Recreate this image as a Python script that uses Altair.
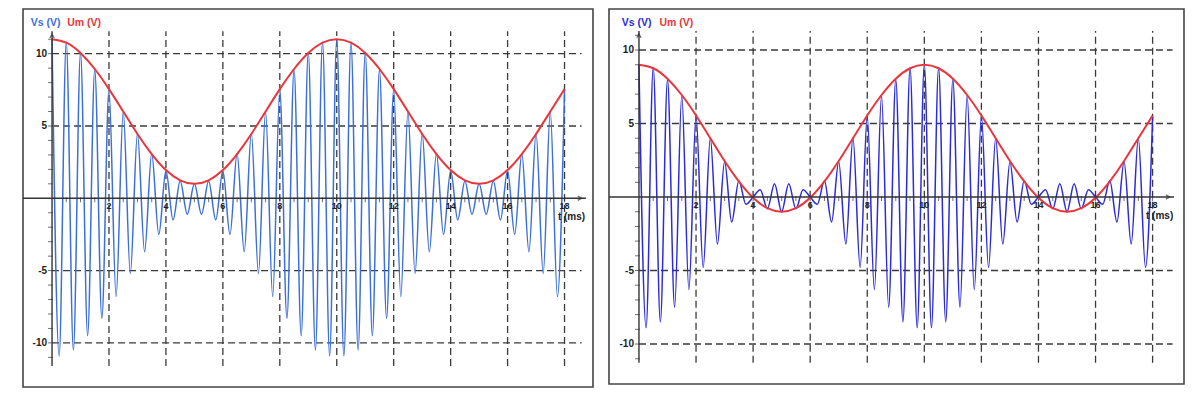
import altair as alt
import pandas as pd

# ---------------- data ----------------
# time of each carrier extremum (ms)
T_VS = [0, 0.25, 0.5, 0.75, 1, 1.25, 1.5, 1.75, 2, 2.25, 2.5, 2.75, 3, 3.25, 3.5, 3.75,
        4, 4.25, 4.5, 4.75, 5, 5.25, 5.5, 5.75, 6, 6.25, 6.5, 6.75, 7, 7.25, 7.5, 7.75,
        8, 8.25, 8.5, 8.75, 9, 9.25, 9.5, 9.75, 10, 10.25, 10.5, 10.75, 11, 11.25, 11.5, 11.75,
        12, 12.25, 12.5, 12.75, 13, 13.25, 13.5, 13.75, 14, 14.25, 14.5, 14.75, 15, 15.25, 15.5, 15.75,
        16, 16.25, 16.5, 16.75, 17, 17.25, 17.5, 17.75, 18]

# left panel: Vs extrema (V)
VS_LEFT = [11.0, -10.9, 10.8, -10.5, 10.1, -9.5, 8.9, -8.3, 7.5, -6.8, 6.0, -5.2, 4.5, -3.7, 3.1, -2.5,
           1.9, -1.5, 1.2, -1.1, 1.0, -1.1, 1.2, -1.5, 1.9, -2.5, 3.1, -3.7, 4.5, -5.2, 6.0, -6.8,
           7.5, -8.3, 8.9, -9.5, 10.1, -10.5, 10.8, -10.9, 11.0, -10.9, 10.8, -10.5, 10.1, -9.5, 8.9, -8.3,
           7.5, -6.8, 6.0, -5.2, 4.5, -3.7, 3.1, -2.5, 1.9, -1.5, 1.2, -1.1, 1.0, -1.1, 1.2, -1.5,
           1.9, -2.5, 3.1, -3.7, 4.5, -5.2, 6.0, -6.8, 7.5]

# right panel: Vs extrema (V)
VS_RIGHT = [9.0, -8.9, 8.8, -8.5, 8.0, -7.5, 6.9, -6.3, 5.5, -4.8, 4.0, -3.2, 2.4, -1.7, 1.1, -0.5,
            0.0, 0.5, -0.8, 0.9, -1.0, 0.9, -0.8, 0.5, 0.0, -0.5, 1.1, -1.7, 2.4, -3.2, 4.0, -4.8,
            5.5, -6.3, 6.9, -7.5, 8.0, -8.5, 8.8, -8.9, 9.0, -8.9, 8.8, -8.5, 8.0, -7.5, 6.9, -6.3,
            5.5, -4.8, 4.0, -3.2, 2.4, -1.7, 1.1, -0.5, 0.0, 0.5, -0.8, 0.9, -1.0, 0.9, -0.8, 0.5,
            0.0, -0.5, 1.1, -1.7, 2.4, -3.2, 4.0, -4.8, 5.5]

# envelope samples (ms, V)
T_UM = [0, 0.5, 1, 1.5, 2, 2.5, 3, 3.5, 4, 4.5, 5, 5.5, 6, 6.5, 7, 7.5, 8, 8.5, 9, 9.5,
        10, 10.5, 11, 11.5, 12, 12.5, 13, 13.5, 14, 14.5, 15, 15.5, 16, 16.5, 17, 17.5, 18]
UM_LEFT = [11.0, 10.76, 10.05, 8.94, 7.55, 6.0, 4.45, 3.06, 1.95, 1.24, 1.0, 1.24, 1.95, 3.06, 4.45,
           6.0, 7.55, 8.94, 10.05, 10.76, 11.0, 10.76, 10.05, 8.94, 7.55, 6.0, 4.45, 3.06, 1.95,
           1.24, 1.0, 1.24, 1.95, 3.06, 4.45, 6.0, 7.55]
UM_RIGHT = [9.0, 8.76, 8.05, 6.94, 5.55, 4.0, 2.45, 1.06, -0.05, -0.76, -1.0, -0.76, -0.05, 1.06, 2.45,
            4.0, 5.55, 6.94, 8.05, 8.76, 9.0, 8.76, 8.05, 6.94, 5.55, 4.0, 2.45, 1.06, -0.05,
            -0.76, -1.0, -0.76, -0.05, 1.06, 2.45, 4.0, 5.55]

X_GRID = [2, 4, 6, 8, 10, 12, 14, 16, 18]
X_LABELS = ["2", "4", "6", "8", "10", "12", "14", "16", "18"]
Y_GRID = [10, 5, -5, -10]
Y_LABELS = ["10", "5", "-5", "-10"]
X_MINOR = [0.5, 1, 1.5, 2, 2.5, 3, 3.5, 4, 4.5, 5, 5.5, 6, 6.5, 7, 7.5, 8, 8.5, 9, 9.5, 10,
           10.5, 11, 11.5, 12, 12.5, 13, 13.5, 14, 14.5, 15, 15.5, 16, 16.5, 17, 17.5, 18]
Y_MINOR = [11, 10, 9, 8, 7, 6, 5, 4, 3, 2, 1, -1, -2, -3, -4, -5, -6, -7, -8, -9, -10, -11]

FONT = "Liberation Sans"
RED = "#e8373c"
GRID = "#3a3a3a"


def panel(vs, um, blue, xdom, ydom, w, h, yax_top, yax_bot, grid_right, head_x):
    xs = alt.Scale(domain=xdom, nice=False, zero=False)
    ys = alt.Scale(domain=ydom, nice=False, zero=False)
    X = lambda f: alt.X(f, type="quantitative", scale=xs, axis=None)
    Y = lambda f: alt.Y(f, type="quantitative", scale=ys, axis=None)

    hgrid = alt.Chart(pd.DataFrame({"y": Y_GRID, "x0": [0] * 4, "x1": [grid_right] * 4})).mark_rule(
        color=GRID, strokeWidth=1.3, strokeDash=[7, 4]).encode(x=X("x0"), x2="x1", y=Y("y"))
    vgrid = alt.Chart(pd.DataFrame({"x": X_GRID, "y0": [yax_bot] * 9, "y1": [yax_top] * 9})).mark_rule(
        color=GRID, strokeWidth=1.3, strokeDash=[7, 4]).encode(x=X("x"), y=Y("y0"), y2="y1")

    xaxis = alt.Chart(pd.DataFrame({"x0": [xdom[0]], "x1": [18.75], "y": [0]})).mark_rule(
        color="#333", strokeWidth=1.4).encode(x=X("x0"), x2="x1", y=Y("y"))
    yaxis = alt.Chart(pd.DataFrame({"x": [0], "y0": [yax_bot], "y1": [yax_top]})).mark_rule(
        color="#333", strokeWidth=1.4).encode(x=X("x"), y=Y("y0"), y2="y1")
    arr_r = alt.Chart(pd.DataFrame({"x": [18.6], "y": [0]})).mark_point(
        shape="M-1,-0.55L0,0L-1,0.55", filled=False, color="#333", strokeWidth=1.4, size=60
    ).encode(x=X("x"), y=Y("y"))
    arr_u = alt.Chart(pd.DataFrame({"x": [0], "y": [yax_top - 0.2]})).mark_point(
        shape="M-0.55,1L0,0L0.55,1", filled=False, color="#333", strokeWidth=1.4, size=60
    ).encode(x=X("x"), y=Y("y"))

    xminor = alt.Chart(pd.DataFrame({"x": X_MINOR})).mark_tick(
        color="#333", orient="vertical", size=5, thickness=1).encode(
        x=X("x"), y=alt.value(h * ydom[1] / (ydom[1] - ydom[0]) + 1.5))
    yminor = alt.Chart(pd.DataFrame({"y": Y_MINOR})).mark_tick(
        color="#333", orient="horizontal", size=5, thickness=1).encode(
        y=Y("y"), x=alt.value(w * (0 - xdom[0]) / (xdom[1] - xdom[0]) - 1.5))

    ylab = alt.Chart(pd.DataFrame({"y": Y_GRID, "t": Y_LABELS, "x": [0] * 4})).mark_text(
        font=FONT, fontSize=10, fontWeight="bold", color="#222", align="right", baseline="middle", dx=-5
    ).encode(x=X("x"), y=Y("y"), text="t:N")
    xlab = alt.Chart(pd.DataFrame({"x": X_GRID, "t": X_LABELS, "y": [0] * 9})).mark_text(
        font=FONT, fontSize=9, fontWeight="bold", color="#222", align="center", baseline="middle", dy=8
    ).encode(x=X("x"), y=Y("y"), text="t:N")
    tlab = alt.Chart(pd.DataFrame({"x": [18], "y": [0], "t": ["t (ms)"]})).mark_text(
        font=FONT, fontSize=10, fontWeight="bold", color="#222", align="center", baseline="middle", dx=7, dy=19
    ).encode(x=X("x"), y=Y("y"), text="t:N")

    head = alt.Chart(pd.DataFrame({"x": head_x, "y": [ydom[1] - 0.95] * 2, "t": ["Vs (V)", "Um (V)"],
                                   "c": [blue, RED]})).mark_text(
        font=FONT, fontSize=10.5, fontWeight="bold", align="left", baseline="middle"
    ).encode(x=X("x"), y=Y("y"), text="t:N", color=alt.Color("c:N", scale=None))

    vs_line = alt.Chart(pd.DataFrame({"t": T_VS, "v": vs})).mark_line(
        color=blue, strokeWidth=1.5, interpolate="monotone").encode(x=X("t"), y=Y("v"))
    um_line = alt.Chart(pd.DataFrame({"t": T_UM, "v": um})).mark_line(
        color=RED, strokeWidth=2, interpolate="natural").encode(x=X("t"), y=Y("v"))

    return alt.layer(hgrid, vgrid, xminor, yminor, vs_line, um_line, xaxis, yaxis, arr_r, arr_u,
                     ylab, xlab, tlab, head).properties(width=w, height=h)


left = panel(VS_LEFT, UM_LEFT, "#3b6fdb", [-1.02, 19.0], [-13.05, 13.09], 570, 378,
             11.55, -11.6, 18.6, [-0.75, 0.53])
right = panel(VS_RIGHT, UM_RIGHT, "#2b2bdc", [-1.05, 19.1], [-12.72, 12.79], 575, 375,
              11.3, -11.27, 18.7, [-0.6, 0.72])

chart = alt.hconcat(left, right, spacing=13).configure_view(
    stroke="#444", strokeWidth=1.6).properties(
    padding={"left": 13, "top": 0, "right": 0, "bottom": 0})

chart.save("out.html", embed_options={"renderer": "svg", "actions": False})
